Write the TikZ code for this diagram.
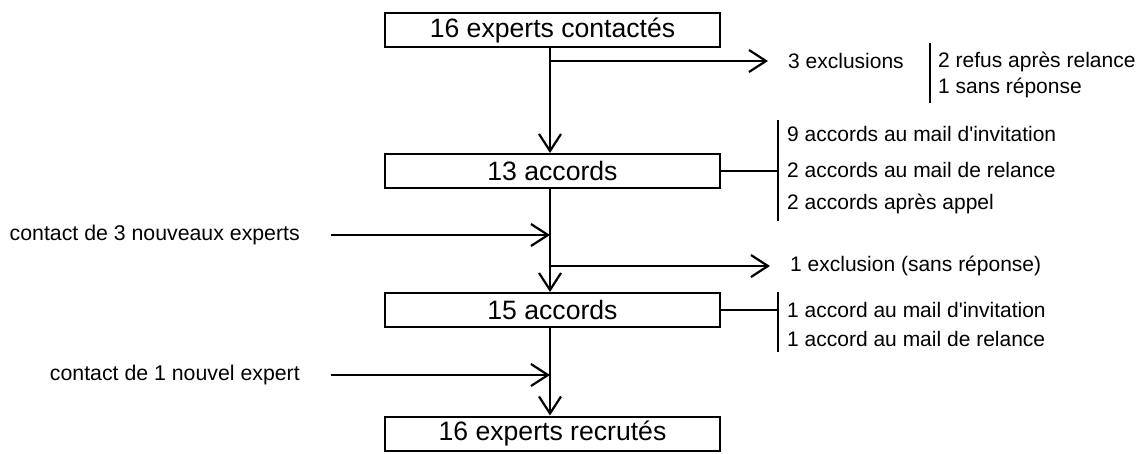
\documentclass[tikz,border=0pt]{standalone}
\usepackage{fontspec}
\setmainfont{Liberation Sans}
\usetikzlibrary{arrows.meta}
\begin{document}
\begin{tikzpicture}[x=1pt,y=-1pt,
  box/.style={draw,line width=2pt,minimum width=335pt,minimum height=34pt,inner sep=0pt,font=\fontsize{26.6}{30}\selectfont},
  lbl/.style={anchor=west,inner sep=0pt,font=\fontsize{21}{25}\selectfont},
  llbl/.style={anchor=east,inner sep=0pt,font=\fontsize{21.3}{25}\selectfont},
  ln/.style={line width=2.2pt},
  arr/.style={line width=2.2pt,-{Straight Barb[length=17pt,width=22pt,line width=2.2pt]}}]
\useasboundingbox (0,0) rectangle (1145,453);
% boxes
\node[box] (b1) at (552.5,30) {16 experts contactés};
\node[box] (b2) at (552.5,171) {13 accords};
\node[box] (b3) at (552.5,310) {15 accords};
\node[box] (b4) at (552.5,433.5) {16 experts recrutés};
% junctions on the main line
\coordinate (j1) at (550,61);
\coordinate (m1) at (550,235);
\coordinate (j2) at (550,266);
\coordinate (m2) at (550,375);
% main flow
\draw[arr] (b1.south -| j1) -- (b2.north -| j1);
\draw[ln] (b2.south -| j1) -- (m1);
\draw[arr] (m1) -- (b3.north -| j1);
\draw[ln] (b3.south -| j1) -- (m2);
\draw[arr] (m2) -- (b4.north -| j1);
% exclusions 1
\node[lbl] (ex1) at (788,61) {3 exclusions};
\coordinate (e1) at (768,61);
\draw[arr] (j1) -- (e1);
\coordinate (v1t) at (930,43);
\coordinate (v1b) at (930,103);
\draw[ln] (v1t) -- (v1b);
\node[lbl] (r1) at (938,62) {2 refus après relance};
\node[lbl] (r2) at (938,88) {1 sans réponse};
% accords for 13
\coordinate (v2t) at (778,120);
\coordinate (v2b) at (778,221);
\draw[ln] (v2t) -- (v2b);
\draw[ln] (b2.east) -- (b2.east -| v2t);
\node[lbl] (a1) at (787,134) {9 accords au mail d\textquotesingle invitation};
\node[lbl] (a2) at (787,170) {2 accords au mail de relance};
\node[lbl] (a3) at (787,204) {2 accords après appel};
% new experts 1
\node[llbl] (c1) at (300,235) {contact de 3 nouveaux experts};
\coordinate (s1) at (331,235);
\draw[arr] (s1) -- (m1);
% exclusion 2
\node[lbl] (ex2) at (790,266) {1 exclusion (sans réponse)};
\coordinate (e2) at (770,266);
\draw[arr] (j2) -- (e2);
% accords for 15
\coordinate (v3t) at (778,292);
\coordinate (v3b) at (778,352);
\draw[ln] (v3t) -- (v3b);
\draw[ln] (b3.east) -- (b3.east -| v3t);
\node[lbl] (a4) at (787,310) {1 accord au mail d\textquotesingle invitation};
\node[lbl] (a5) at (787,339) {1 accord au mail de relance};
% new expert 2
\node[llbl] (c2) at (300,375) {contact de 1 nouvel expert};
\coordinate (s2) at (331,375);
\draw[arr] (s2) -- (m2);
\end{tikzpicture}
\end{document}
